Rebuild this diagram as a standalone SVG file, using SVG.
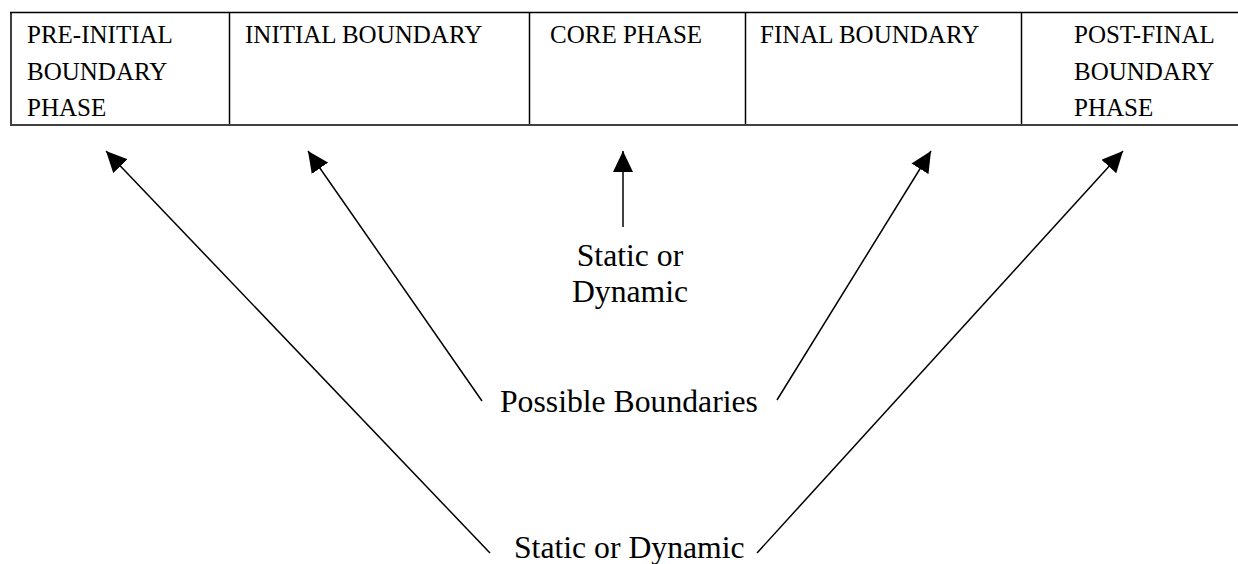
<svg xmlns="http://www.w3.org/2000/svg" width="1238" height="564" viewBox="0 0 1238 564">
  <style>
    .cell { font-family: "Liberation Serif", "Times New Roman", serif; font-size: 25px; fill: #000; }
    .label { font-family: "Liberation Serif", "Times New Roman", serif; font-size: 31.7px; fill: #000; }
    .rule { stroke: #000; stroke-width: 1.5; fill: none; }
    .conn { stroke: #000; stroke-width: 1.5; fill: none; marker-end: url(#head); }
    .plain { stroke: #000; stroke-width: 1.5; fill: none; }
  </style>
  <defs>
    <marker id="head" markerUnits="userSpaceOnUse" markerWidth="22" markerHeight="20" refX="21" refY="10" orient="auto">
      <path d="M0,0 L21,10 L0,20 Z" fill="#000"/>
    </marker>
  </defs>
  <rect width="1238" height="564" fill="#fff"/>

  <!-- phase table -->
  <g id="table">
    <line class="rule" x1="10" y1="12.5" x2="1238" y2="12.5"/>
    <line class="rule" x1="10" y1="125" x2="1238" y2="125"/>
    <line class="rule" x1="11" y1="12" x2="11" y2="124"/>
    <line class="rule" x1="229.5" y1="12" x2="229.5" y2="124"/>
    <line class="rule" x1="529.5" y1="12" x2="529.5" y2="124"/>
    <line class="rule" x1="745.5" y1="12" x2="745.5" y2="124"/>
    <line class="rule" x1="1021.5" y1="12" x2="1021.5" y2="124"/>
  </g>

  <g id="pre-initial">
    <text class="cell" x="27" y="43">PRE-INITIAL</text>
    <text class="cell" x="27" y="80">BOUNDARY</text>
    <text class="cell" x="27" y="116">PHASE</text>
  </g>
  <g id="initial">
    <text class="cell" x="245" y="43">INITIAL BOUNDARY</text>
  </g>
  <g id="core">
    <text class="cell" x="550" y="43">CORE PHASE</text>
  </g>
  <g id="final">
    <text class="cell" x="760" y="43">FINAL BOUNDARY</text>
  </g>
  <g id="post-final">
    <text class="cell" x="1074" y="43">POST-FINAL</text>
    <text class="cell" x="1074" y="80">BOUNDARY</text>
    <text class="cell" x="1074" y="116">PHASE</text>
  </g>

  <!-- labels -->
  <g id="core-type">
    <text class="label" x="630" y="266" text-anchor="middle">Static or</text>
    <text class="label" x="630" y="302" text-anchor="middle">Dynamic</text>
  </g>
  <g id="possible-boundaries">
    <text class="label" x="500" y="412">Possible Boundaries</text>
  </g>
  <g id="outer-type">
    <text class="label" x="514" y="558">Static or Dynamic</text>
  </g>

  <!-- connectors -->
  <g id="connectors">
    <line class="conn" x1="490" y1="553" x2="106" y2="151"/>
    <line class="conn" x1="482" y1="401" x2="308" y2="151"/>
    <line class="conn" x1="623" y1="227" x2="623" y2="151"/>
    <line class="conn" x1="777" y1="400" x2="931" y2="151"/>
    <line class="conn" x1="757" y1="553" x2="1123" y2="151"/>
  </g>
</svg>
